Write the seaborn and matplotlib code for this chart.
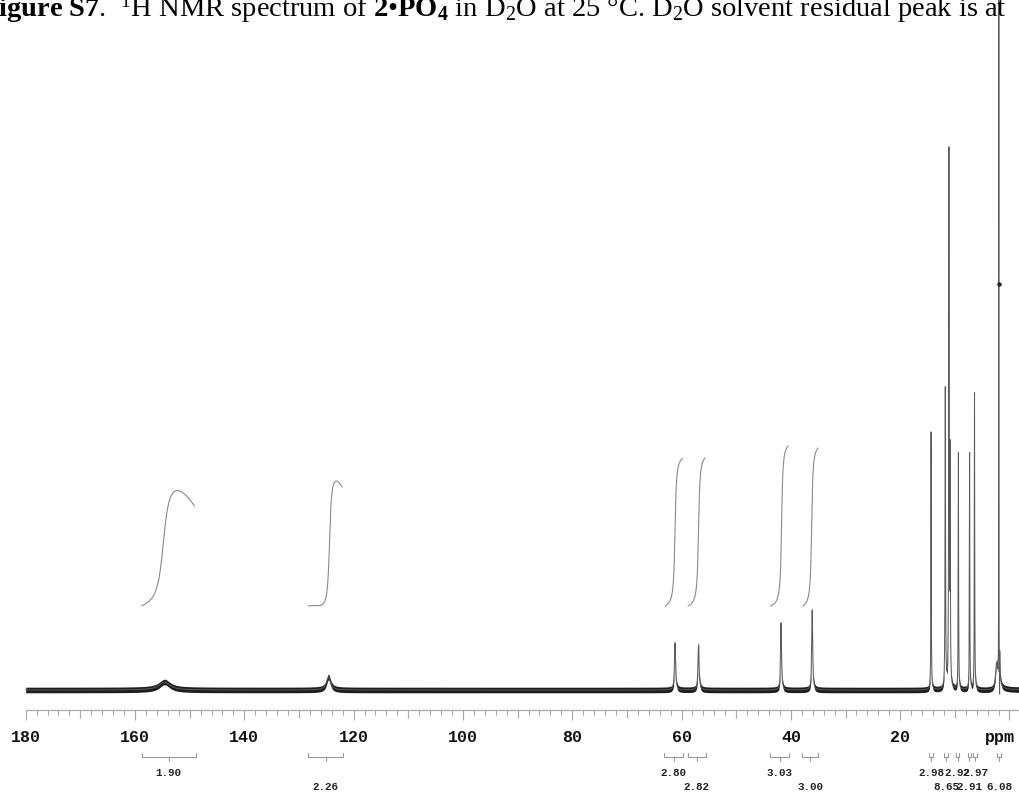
import numpy as np
import pandas as pd
import matplotlib
matplotlib.use("Agg")
import matplotlib.pyplot as plt
import seaborn as sns
from matplotlib.ticker import FixedLocator
from matplotlib.transforms import ScaledTranslation

# ---------------- data ----------------
# spectrum peaks: position (ppm), height (arb.), half width (ppm)
peak_ppm = [154.6, 124.6, 61.2, 56.9, 41.8, 36.1, 14.35, 11.75, 11.08, 10.85, 9.35, 7.3, 6.4, 2.35, 1.95]
peak_height = [8, 13, 47, 45, 67, 80, 258, 300, 535, 225, 237, 237, 297, 28, 690]
peak_hwhm = [1.2, 0.45, 0.12, 0.12, 0.1, 0.1, 0.04, 0.05, 0.05, 0.04, 0.04, 0.04, 0.04, 0.25, 0.02]
# dispersive artefact at the solvent/reference line
disp_ppm = [1.80]
disp_amp = [-50]
disp_hwhm = [0.02]
noise_amp = 2.8
peak_pick_ppm = [1.95]
peak_pick_h = [406]

# integral curves
int_start = [158.8, 128.3, 63.0, 58.8, 43.7, 37.8]
int_end = [149.1, 122.1, 59.8, 55.7, 40.5, 35.0]
int_center = [154.8, 124.4, 61.2, 56.9, 41.7, 36.2]
int_gamma = [0.9, 0.3, 0.2, 0.2, 0.18, 0.18]
int_base = [84, 84, 84, 84, 84, 84]
int_rise = [146, 156, 150, 151, 162, 160]
int_drift = [46, 37, 2.3, 3, 2, 2]

# integration brackets and values
br_start = [158.8, 128.3, 63.2, 58.9, 43.8, 37.9, 14.66, 11.92, 9.78, 7.65, 6.61, 2.22]
br_end = [148.9, 121.9, 59.7, 55.5, 40.3, 35.0, 14.06, 11.32, 9.18, 7.05, 6.01, 1.62]
br_value = ["1.90", "2.26", "2.80", "2.82", "3.03", "3.00", "2.98", "8.65", "2.92", "2.91", "2.97", "6.08"]
br_row = [0, 1, 0, 1, 0, 1, 0, 1, 0, 1, 0, 1]

# axis ticks
label_ticks = [180, 160, 140, 120, 100, 80, 60, 40, 20, 0]
label_text = ["180", "160", "140", "120", "100", "80", "60", "40", "20", "ppm"]
mid_ticks = [170, 150, 130, 110, 90, 70, 50, 30, 10]
minor_ticks = list(range(0, 181, 2))

title_text = (r"$\mathbf{Figure\ S7}$.  $^{1}$H NMR spectrum of $\mathbf{2}$•$\mathbf{PO_4}$"
              r" in D$_2$O at 25 °C. D$_2$O solvent residual peak is at")

# ---------------- style ----------------
sns.set_theme(style="white")
plt.rcParams["font.family"] = ["Liberation Serif", "DejaVu Serif"]
plt.rcParams["mathtext.fontset"] = "custom"
plt.rcParams["mathtext.rm"] = "Liberation Serif"
plt.rcParams["mathtext.bf"] = "Liberation Serif:bold"
plt.rcParams["mathtext.it"] = "Liberation Serif:italic"

W, H, DPI = 1020, 795, 100
fig = plt.figure(figsize=(W / DPI, H / DPI), dpi=DPI)
ax = fig.add_axes([0, 0, 1, 1])

px_per_ppm = (1009.5 - 25.7) / 180.0
x_left = 180 + 25.7 / px_per_ppm
x_right = -(W - 1009.5) / px_per_ppm
y_bottom, y_top = -105, 690
ax.set_xlim(x_left, x_right)
ax.set_ylim(y_bottom, y_top)

# spectrum
x = np.arange(x_right, x_left, 0.004)
spec = np.zeros_like(x)
for c, h, g in zip(peak_ppm, peak_height, peak_hwhm):
    spec += h * g**2 / ((x - c) ** 2 + g**2)
for c, a, g in zip(disp_ppm, disp_amp, disp_hwhm):
    spec += a * (x - c) * g / ((x - c) ** 2 + g**2)

mask = x <= 180.0
ax.fill_between(x[mask], spec[mask] - noise_amp, spec[mask] + noise_amp,
                color="#1e1e1e", lw=0, zorder=2)
sns.lineplot(x=x[mask], y=spec[mask], ax=ax, color="#5a5a5a", lw=0.7,
             estimator=None, sort=False, zorder=3)
ax.plot(peak_pick_ppm, peak_pick_h, "o", ms=2.2, color="#222222", zorder=4)

# integral curves
for s, e, c, g, b, r, d in zip(int_start, int_end, int_center, int_gamma,
                               int_base, int_rise, int_drift):
    xi = np.linspace(s, e, 400)
    L = g / ((xi - c) ** 2 + g**2)
    cum = np.cumsum(L)
    cum = (cum - cum[0]) / (cum[-1] - cum[0])
    t = np.linspace(0, 1, xi.size)
    yi = b + r * cum - d * t**2
    sns.lineplot(x=xi, y=yi, ax=ax, color="#8a8a8a", lw=0.8,
                 estimator=None, sort=False, zorder=3)

# brackets
yb = 690 - 757
bc = "#9a9a9a"
mono = ["Liberation Mono", "DejaVu Sans Mono"]
for s, e, v, row in zip(br_start, br_end, br_value, br_row):
    cx = 0.5 * (s + e)
    ax.plot([s, s, e, e], [yb + 4.5, yb, yb, yb + 4.5], color=bc, lw=0.8)
    ax.plot([cx, cx], [yb, yb - 4], color=bc, lw=0.8)
    ty = 690 - (772.5 if row == 0 else 786.5)
    ax.text(cx, ty, v, ha="center", va="center", fontsize=7.8,
            fontweight="bold", family=mono, color="#222222")

# axis
for sp in ["top", "left", "right"]:
    ax.spines[sp].set_visible(False)
ax.spines["bottom"].set_position(("data", -20))
ax.spines["bottom"].set_bounds(180, x_right)
ax.spines["bottom"].set_color("#a8a8a8")
ax.spines["bottom"].set_linewidth(0.9)
ax.set_yticks([])
ax.xaxis.set_major_locator(FixedLocator(mid_ticks))
ax.xaxis.set_minor_locator(FixedLocator(minor_ticks))
ax.tick_params(axis="x", which="major", direction="out", length=5.6, width=0.8,
               color="#a8a8a8", labelbottom=False, bottom=True)
ax.tick_params(axis="x", which="minor", direction="out", length=3.6, width=0.8,
               color="#a8a8a8", bottom=True)
ax.set_xlabel("")
ax.set_ylabel("")
ax.grid(False)

ax2 = ax.twiny()
ax2.set_xlim(x_left, x_right)
for sp in ["top", "left", "right", "bottom"]:
    ax2.spines[sp].set_visible(False)
ax2.xaxis.set_ticks_position("bottom")
ax2.xaxis.set_label_position("bottom")
ax2.spines["bottom"].set_position(("data", -20))
ax2.set_xticks(label_ticks)
ax2.set_xticklabels(label_text)
ax2.tick_params(axis="x", which="major", direction="out", length=7.4, width=0.8,
                color="#a8a8a8", pad=7, labelsize=12, labelcolor="#111111")
for lab in ax2.get_xticklabels():
    lab.set_family(mono)
    lab.set_fontweight("bold")
ppm_lab = ax2.get_xticklabels()[-1]
ppm_lab.set_transform(ppm_lab.get_transform() +
                      ScaledTranslation(-10 / DPI, 0, fig.dpi_scale_trans))
ax2.grid(False)

# title (cut at the top/left as in the reference)
fig.text(-19 / W, 1 - 17 / H, title_text, ha="left", va="baseline",
         fontsize=20.5, color="black")

fig.savefig("out.png", dpi=DPI)
